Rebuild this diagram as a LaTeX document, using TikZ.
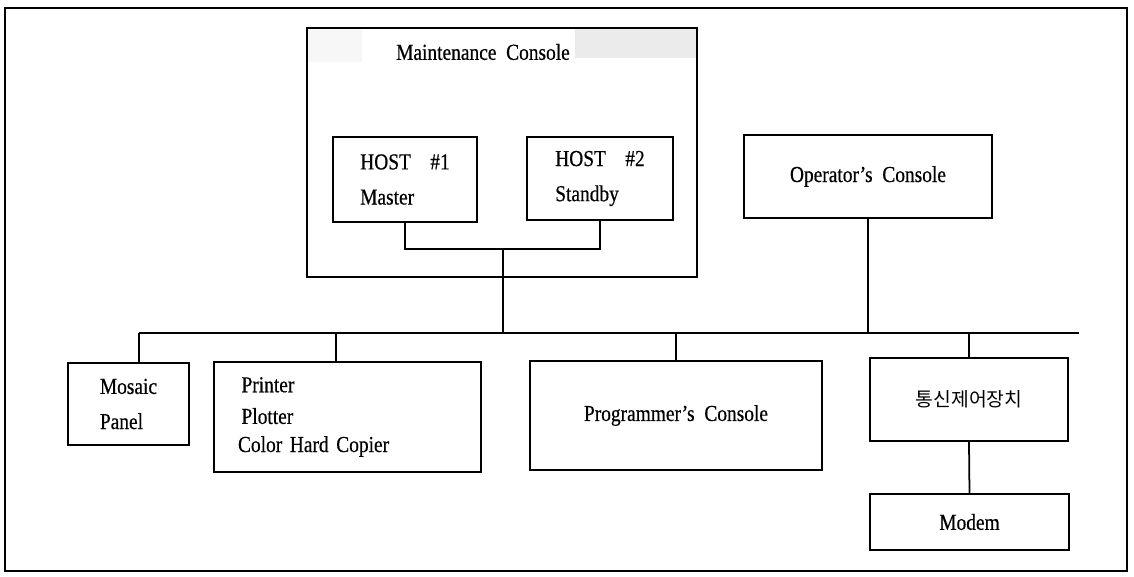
\documentclass[tikz,border=0pt]{standalone}
\usepackage{fontspec}
\setmainfont[FakeStretch=0.85,WordSpace=2,FakeBold=0.5]{Liberation Serif}
\newfontfamily\kofont{Noto Sans CJK KR}
\usepackage{tikz}

\tikzset{
  unit/.style={draw, line width=1pt, rectangle, inner sep=0pt},
  link/.style={line width=1pt},
}

\begin{document}
\begin{tikzpicture}[x=0.02cm, y=-0.02cm, font=\fontsize{13}{15}\selectfont]
    \useasboundingbox (0,0) rectangle (1134,576);

    % The outer frame
    \draw[line width=1.1pt] (5,8) rectangle (1127,571);

    % Maintenance Console with the two hosts
    \fill[gray!16] (575,29) rectangle (696,58);
    \fill[gray!6] (308,29) rectangle (362,62);
    \node[unit, minimum width=7.8cm, minimum height=4.98cm] (maint) at (502,152.5) {};
    \node (mtitle) at (483,52) {Maintenance Console};
    \node[unit, minimum width=2.88cm, minimum height=1.7cm, align=left] (host1) at (405,179.5)
        {HOST\ \ \#1\\[5pt]Master};
    \node[unit, minimum width=2.92cm, minimum height=1.66cm, align=left] (host2) at (600,178.5)
        {HOST\ \ \#2\\[5pt]Standby};
    \coordinate (hjoin) at (503,249);
    \draw[link] (host1.south) |- (hjoin) -| (host2.south);

    % Operator's Console
    \node[unit, minimum width=4.96cm, minimum height=1.66cm] (oper) at (868,176.5)
        {Operator's Console};

    % The bus
    \coordinate (busL) at (139,333);
    \coordinate (busR) at (1079,333);
    \draw[link] (busL) -- (busR);
    \draw[link] (hjoin) -- (hjoin |- busL);
    \draw[link] (oper.south) -- (oper.south |- busL);

    % Devices on the bus
    \node[unit, minimum width=2.42cm, minimum height=1.64cm, align=left] (mosaic) at (128.5,404)
        {Mosaic\\[5pt]Panel};
    \node[unit, minimum width=5.34cm, minimum height=2.2cm, text width=4.38cm, inner xsep=0.48cm,
        align=left] (printer) at (347.5,417)
        {\hspace{2pt}Printer\\[3pt]\hspace{2pt}Plotter\\[1pt]Color Hard Copier};
    \node[unit, minimum width=5.84cm, minimum height=2.18cm] (prog) at (676,415.5)
        {Programmer's Console};
    \node[unit, minimum width=3.96cm, minimum height=1.66cm, font=\kofont\fontsize{11}{13}\selectfont]
        (comm) at (969,399.5) {통신제어장치};
    \node[unit, minimum width=3.98cm, minimum height=1.12cm] (modem) at (969.5,522) {Modem};

    \draw[link] ([xshift=0.21cm]mosaic.north) -- ([xshift=0.21cm]mosaic.north |- busL);
    \draw[link] ([xshift=-0.23cm]printer.north) -- ([xshift=-0.23cm]printer.north |- busL);
    \draw[link] (prog.north) -- (prog.north |- busL);
    \draw[link] (comm.north) -- (comm.north |- busL);
    \draw[link] (comm.south) -- (modem.north);
\end{tikzpicture}
\end{document}
